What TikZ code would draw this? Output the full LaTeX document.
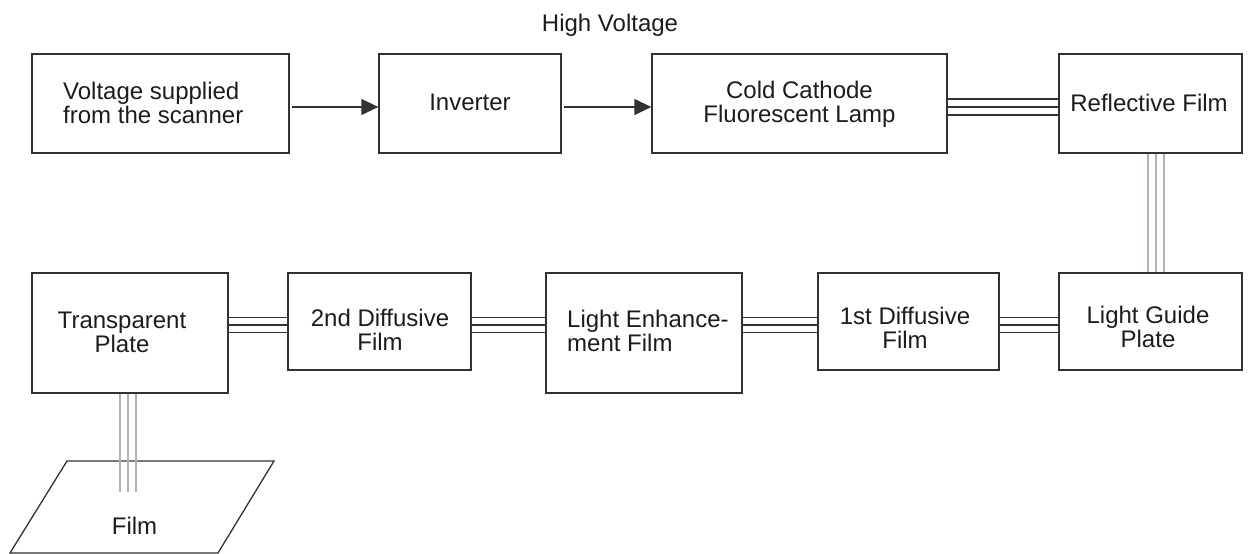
\documentclass[tikz,border=0pt]{standalone}
\usepackage{fontspec}
\setmainfont{Liberation Sans}
\usetikzlibrary{arrows.meta}
\definecolor{ink}{RGB}{30,27,28}
\definecolor{edge}{RGB}{50,50,50}
\definecolor{mauve}{RGB}{183,174,185}
\begin{document}
\begin{tikzpicture}[x=1pt,y=-1pt,
  box/.style={draw=edge, line width=1.3pt, rectangle, inner sep=0pt},
  lbl/.style={text=ink, font=\fontsize{24}{24}\selectfont, inner sep=0pt},
  arr/.style={draw=edge, line width=1.3pt, -{Triangle[length=17pt,width=16pt]}},
  tri/.style={draw=edge, line width=1.3pt},
  trig/.style={draw=mauve, line width=1.8pt}]
\useasboundingbox (0,0) rectangle (1251,554);
% top row boxes
\node[box, minimum width=257pt, minimum height=99pt] (b1) at (160.5,103.5) {};
\node[box, minimum width=182pt, minimum height=99pt] (b2) at (470,103.5) {};
\node[box, minimum width=295pt, minimum height=99pt] (b3) at (799.5,103.5) {};
\node[box, minimum width=183pt, minimum height=99pt] (b4) at (1150.5,103.5) {};
% bottom row boxes
\node[box, minimum width=196pt, minimum height=120pt] (c1) at (130,333) {};
\node[box, minimum width=183pt, minimum height=97pt] (c2) at (379.5,321.5) {};
\node[box, minimum width=196pt, minimum height=120pt] (c3) at (644,333) {};
\node[box, minimum width=181pt, minimum height=97pt] (c4) at (908.5,321.5) {};
\node[box, minimum width=183pt, minimum height=97pt] (c5) at (1150.5,321.5) {};
% labels
\node[lbl, align=left, anchor=west] (t1) at (63,103) {Voltage supplied\\from the scanner};
\node[lbl] (t2) at (470,102) {Inverter};
\node[lbl, align=center] (t3) at (799.5,104.4) {Cold Cathode\\Fluorescent Lamp};
\node[lbl] (t4) at (1149,103) {Reflective Film};
\node[lbl] (hv) at (610,25) {High Voltage};
\node[lbl, align=center] (u1) at (122,332) {Transparent\\Plate};
\node[lbl, align=center] (u2) at (380,330) {2nd Diffusive\\Film};
\node[lbl, align=left, anchor=west] (u3) at (567,331) {Light Enhance-\\ment Film};
\node[lbl, align=center] (u4) at (905,328) {1st Diffusive\\Film};
\node[lbl, align=center] (u5) at (1148,327) {Light Guide\\Plate};
% film parallelogram
\coordinate (p1) at (67,461);
\coordinate (p2) at (274,461);
\coordinate (p3) at (218,553);
\coordinate (p4) at (10,553);
\draw[tri] (p1) -- (p2) -- (p3) -- (p4) -- cycle;
\node[lbl] (fm) at (134.5,525.5) {Film};
\coordinate (fl) at (128,492);
% arrows
\draw[arr] ([xshift=2pt]b1.east |- 0,107) -- (b2.west |- 0,107);
\draw[arr] ([xshift=2pt]b2.east |- 0,107) -- (b3.west |- 0,107);
% triple connectors
\foreach \d in {-8,0,8}{
  \draw[tri] (b3.east |- 0,{107+\d}) -- (b4.west |- 0,{107+\d});
  \draw[trig] (b4.south -| {1156+\d},0) -- (c5.north -| {1156+\d},0);
  \draw[trig] (c1.south -| {128+\d},0) -- (fl -| {128+\d},0);
}
\foreach \d in {-7.5,0,7.5}{
  \draw[tri] (c1.east |- 0,{325+\d}) -- (c2.west |- 0,{325+\d});
  \draw[tri] (c2.east |- 0,{325+\d}) -- (c3.west |- 0,{325+\d});
  \draw[tri] (c3.east |- 0,{325+\d}) -- (c4.west |- 0,{325+\d});
  \draw[tri] (c4.east |- 0,{325+\d}) -- (c5.west |- 0,{325+\d});
}
\end{tikzpicture}
\end{document}
